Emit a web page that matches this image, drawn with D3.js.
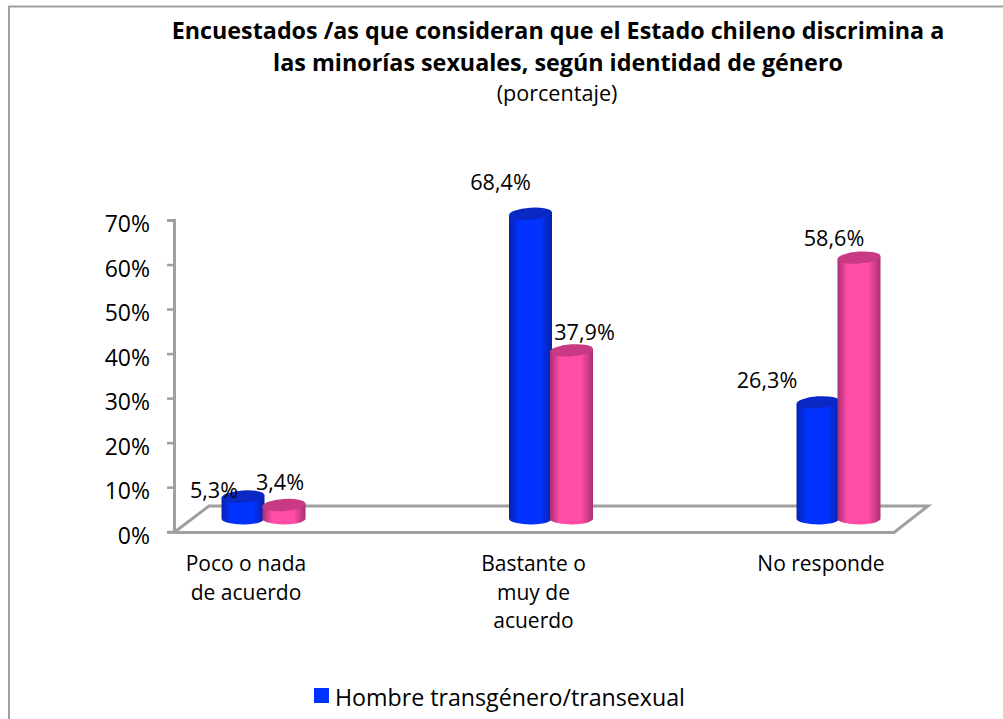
<!DOCTYPE html>
<html>
<head>
<meta charset="utf-8">
<script src="https://cdn.jsdelivr.net/npm/d3@7"></script>
<style>
  html, body { margin: 0; padding: 0; background: #fff; overflow: hidden; }
  text { font-family: "Open Sans", sans-serif; fill: #000; }
</style>
</head>
<body>
<div id="chart"></div>
<script>
// Values
const categories = ["Poco o nada de acuerdo", "Bastante o muy de acuerdo", "No responde"];
const categoryLines = [["Poco o nada", "de acuerdo"], ["Bastante o", "muy de", "acuerdo"], ["No responde"]];
const hombreValues = [5.3, 68.4, 26.3];
const mujerValues = [3.4, 37.9, 58.6];
const yTicks = [0, 10, 20, 30, 40, 50, 60, 70];
const legendLabel = "Hombre transgénero/transexual";

const width = 1003;
const height = 719;
const svg = d3.select("#chart").append("svg")
  .attr("width", width)
  .attr("height", height)
  .style("display", "block");

const defs = svg.append("defs");
addGradient("blueSide", "#0a22a8", "#0033ff");
addGradient("pinkSide", "#a82f70", "#ff4da8");

// Side shading of the cylinders, dark at the edges
function addGradient(id, edge, middle) {
  const g = defs.append("linearGradient").attr("id", id);
  g.append("stop").attr("offset", "0%").attr("stop-color", edge);
  g.append("stop").attr("offset", "22%").attr("stop-color", middle);
  g.append("stop").attr("offset", "72%").attr("stop-color", middle);
  g.append("stop").attr("offset", "100%").attr("stop-color", edge);
}

// Outer frame, runs off the right and bottom of the image
svg.append("rect")
  .attr("x", 9).attr("y", 6.5)
  .attr("width", 1100).attr("height", 800)
  .attr("fill", "none")
  .attr("stroke", "#a0a0a0")
  .attr("stroke-width", 2);

// Title
const title = svg.append("g").attr("text-anchor", "middle");
title.append("text").attr("x", 558).attr("y", 39)
  .style("font-size", "23.3px").style("font-weight", 700)
  .text("Encuestados /as que consideran que el Estado chileno discrimina a");
title.append("text").attr("x", 558).attr("y", 71)
  .style("font-size", "23.3px").style("font-weight", 700)
  .text("las minorías sexuales, según identidad de género");
title.append("text").attr("x", 557).attr("y", 101)
  .style("font-size", "21.6px")
  .text("(porcentaje)");

// Scales
const y = d3.scaleLinear().domain([0, 70]).range([531.7, 220]);
const barY = d3.scaleLinear().domain([0, 70]).range([520.2, 206.5]);
const x = d3.scalePoint().domain(categories).range([264, 839]);

// Floor of the 3D plot
svg.append("path")
  .attr("d", "M174,532.5 L894,532.5 L928,506 L209,506 L174,532.5")
  .attr("fill", "none")
  .attr("stroke", "#a0a0a0")
  .attr("stroke-width", 3);

// Y axis
const yAxis = svg.append("g")
  .attr("transform", "translate(174,0)")
  .call(d3.axisLeft(y).tickValues(yTicks).tickFormat(d => d + "%").tickSize(7).tickPadding(17));
yAxis.select(".domain").attr("stroke", "#a0a0a0").attr("stroke-width", 3);
yAxis.selectAll(".tick line").attr("stroke", "#a0a0a0").attr("stroke-width", 2.5);
yAxis.selectAll(".tick text")
  .attr("dy", "0.5em")
  .style("font-size", "23px")
  .style("font-family", '"Open Sans", sans-serif');

// Cylinders, blue first so the pink one sits in front
const rx = 21.5;
const ry = 6;
const tilt = -4;
const baseY = 519;

function drawBars(values, offset, sideFill, topFill) {
  const bars = svg.append("g").selectAll("g")
    .data(values)
    .enter()
    .append("g")
    .attr("transform", (d, i) => "translate(" + (x(categories[i]) + offset) + ",0)");

  bars.append("path")
    .attr("fill", "url(#" + sideFill + ")")
    .attr("d", d => {
      const top = barY(d);
      return "M" + (-rx) + "," + (top + 1.5)
        + " L" + (-rx) + "," + baseY
        + " A" + rx + "," + ry + " 0 0 0 " + rx + "," + (baseY - 1)
        + " L" + rx + "," + (top - 1.5) + " Z";
    });

  bars.append("ellipse")
    .attr("rx", rx)
    .attr("ry", ry)
    .attr("fill", topFill)
    .attr("transform", d => "translate(0," + barY(d) + ") rotate(" + tilt + ")");
}

drawBars(hombreValues, -21, "blueSide", "#0a28c4");
drawBars(mujerValues, 20, "pinkSide", "#c93a85");

// Data labels sit where the original placed them by hand
const hombreLabelOffsets = [[-29, 2], [-30, -24], [-51, -14]];
const mujerLabelOffsets = [[-4, -15], [13, -10], [-25, -12]];

function drawLabels(values, offset, offsets) {
  svg.append("g").selectAll("text")
    .data(values)
    .enter()
    .append("text")
    .attr("text-anchor", "middle")
    .attr("x", (d, i) => x(categories[i]) + offset + offsets[i][0])
    .attr("y", (d, i) => barY(d) + offsets[i][1])
    .style("font-size", "21.6px")
    .text(d => String(d).replace(".", ",") + "%");
}

drawLabels(hombreValues, -21, hombreLabelOffsets);
drawLabels(mujerValues, 20, mujerLabelOffsets);

// Category labels
const catLabels = svg.append("g").selectAll("text")
  .data(categories)
  .enter()
  .append("text")
  .attr("text-anchor", "middle")
  .attr("y", 571)
  .style("font-size", "21px");

catLabels.selectAll("tspan")
  .data((d, i) => categoryLines[i].map(line => ({ line, i })))
  .enter()
  .append("tspan")
  .attr("x", d => x(categories[d.i]) - 18)
  .attr("dy", (d, j) => j === 0 ? 0 : 28.5)
  .text(d => d.line);

// Legend, only the first entry fits in the picture
svg.append("rect")
  .attr("x", 314).attr("y", 688)
  .attr("width", 15).attr("height", 15)
  .attr("fill", "#0033ff");
svg.append("text")
  .attr("x", 335).attr("y", 706)
  .style("font-size", "23.2px")
  .text(legendLabel);
</script>
</body>
</html>
